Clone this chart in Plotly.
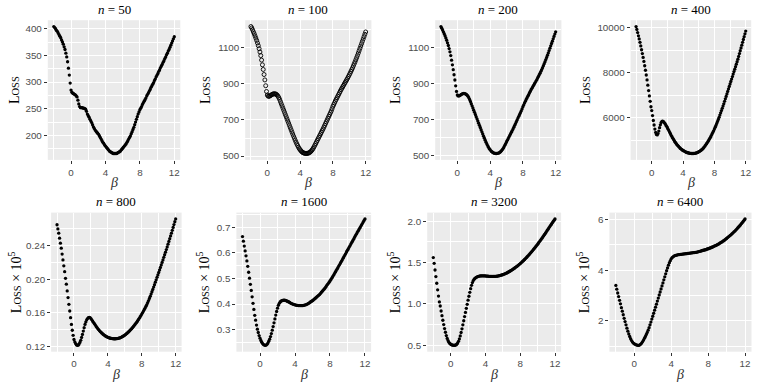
import numpy as np
import plotly.graph_objects as go

W, H = 761, 386

# beta grid the losses were evaluated on (-2 to 12, step 0.1)
beta = np.linspace(-2, 12, 141)

# losses, one row per unit of beta
loss_n50 = [
    404, 402, 400, 397, 395, 392, 389, 386, 383, 379,
    375, 371, 366, 361, 354, 347, 338, 326, 313, 298,
    285, 281, 279, 278, 277, 276, 274, 272, 266, 259,
    254, 252, 252, 252, 251, 251, 250, 249, 245, 240,
    237, 234, 230, 227, 224, 220, 216, 213, 210, 208,
    206, 204, 202, 199, 196, 193, 190, 187, 185, 182,
    180, 178, 176, 174, 172, 170, 169, 168, 167, 166,
    166, 166, 166, 166, 167, 168, 169, 170, 172, 174,
    176, 178, 180, 182, 184, 187, 190, 193, 196, 199,
    203, 207, 211, 215, 220, 225, 230, 235, 240, 244,
    248, 251, 254, 258, 261, 264, 267, 270, 274, 277,
    280, 283, 286, 290, 293, 296, 299, 303, 306, 310,
    313, 316, 320, 323, 327, 330, 333, 337, 340, 344,
    347, 351, 354, 358, 361, 365, 369, 373, 377, 381,
    385]

loss_n100 = [
    1218, 1210, 1200, 1189, 1178, 1166, 1154, 1141, 1127, 1112,
    1095, 1077, 1057, 1032, 1006, 980, 952, 922, 890, 858,
    838, 832, 831, 833, 836, 839, 842, 844, 845, 845,
    844, 842, 838, 832, 824, 814, 802, 790, 778, 766,
    754, 742, 730, 718, 706, 694, 682, 670, 658, 646,
    634, 622, 610, 599, 588, 577, 567, 558, 549, 541,
    535, 529, 524, 520, 518, 516, 515, 514, 514, 515,
    516, 518, 521, 525, 530, 536, 543, 551, 560, 569,
    578, 587, 596, 605, 614, 623, 632, 641, 650, 660,
    670, 680, 690, 700, 710, 720, 730, 740, 750, 762,
    775, 785, 795, 805, 814, 823, 832, 841, 850, 859,
    868, 876, 884, 892, 900, 908, 916, 924, 932, 941,
    950, 959, 969, 979, 989, 1000, 1011, 1022, 1034, 1046,
    1058, 1071, 1084, 1097, 1110, 1123, 1136, 1149, 1162, 1175,
    1188]

loss_n200 = [
    1216, 1207, 1197, 1187, 1176, 1165, 1153, 1140, 1126, 1111,
    1094, 1076, 1055, 1030, 1004, 977, 949, 920, 888, 857,
    837, 832, 832, 834, 837, 840, 843, 845, 846, 845,
    843, 840, 836, 830, 822, 812, 801, 789, 777, 765,
    753, 741, 729, 717, 705, 693, 681, 669, 657, 645,
    633, 621, 609, 598, 587, 576, 566, 557, 548, 540,
    534, 528, 523, 520, 517, 515, 514, 513, 513, 514,
    515, 517, 520, 524, 529, 535, 542, 550, 559, 568,
    577, 586, 595, 604, 613, 622, 631, 640, 649, 659,
    669, 679, 689, 699, 709, 719, 729, 739, 749, 760,
    772, 782, 792, 802, 812, 821, 830, 839, 848, 857,
    866, 874, 882, 890, 898, 906, 914, 922, 931, 940,
    949, 958, 968, 978, 988, 999, 1010, 1021, 1033, 1045,
    1057, 1070, 1083, 1096, 1109, 1122, 1135, 1148, 1161, 1174,
    1187]

loss_n400 = [
    10050, 9920, 9780, 9640, 9500, 9350, 9190, 9020, 8850, 8680,
    8500, 8310, 8110, 7900, 7680, 7450, 7210, 6970, 6730, 6490,
    6320, 6100, 5880, 5680, 5500, 5350, 5260, 5240, 5300, 5410,
    5560, 5690, 5790, 5840, 5850, 5830, 5790, 5740, 5680, 5620,
    5560, 5490, 5420, 5350, 5280, 5210, 5150, 5090, 5030, 4970,
    4920, 4870, 4820, 4780, 4740, 4700, 4660, 4630, 4600, 4570,
    4550, 4530, 4510, 4490, 4470, 4460, 4450, 4440, 4430, 4420,
    4420, 4415, 4415, 4415, 4420, 4425, 4430, 4440, 4455, 4470,
    4490, 4510, 4535, 4560, 4590, 4620, 4660, 4700, 4750, 4800,
    4850, 4900, 4960, 5020, 5080, 5140, 5210, 5280, 5350, 5420,
    5500, 5580, 5660, 5750, 5840, 5930, 6020, 6120, 6220, 6320,
    6420, 6520, 6620, 6730, 6840, 6950, 7060, 7170, 7280, 7390,
    7500, 7610, 7720, 7830, 7940, 8050, 8160, 8270, 8380, 8490,
    8600, 8725, 8850, 8975, 9100, 9225, 9350, 9475, 9600, 9725,
    9850]

# bottom row is shown in units of 10^5
loss_n800 = [
    0.265, 0.260, 0.255, 0.249, 0.243, 0.237, 0.230, 0.223, 0.216, 0.209,
    0.201, 0.194, 0.186, 0.178, 0.170, 0.162, 0.154, 0.146, 0.139, 0.133,
    0.128, 0.125, 0.123, 0.1215, 0.121, 0.1212, 0.1225, 0.1245, 0.127, 0.1305,
    0.134, 0.138, 0.142, 0.146, 0.149, 0.1515, 0.153, 0.154, 0.1545, 0.154,
    0.153, 0.1515, 0.150, 0.1485, 0.147, 0.1455, 0.144, 0.1425, 0.141, 0.1398,
    0.1386, 0.1375, 0.1365, 0.1355, 0.1346, 0.1338, 0.1330, 0.1323, 0.1317, 0.1311,
    0.1306, 0.1302, 0.1298, 0.1295, 0.1293, 0.1291, 0.1290, 0.1289, 0.1289, 0.1289,
    0.1290, 0.1291, 0.1293, 0.1296, 0.1299, 0.1303, 0.1308, 0.1313, 0.1319, 0.1326,
    0.1333, 0.1341, 0.1349, 0.1358, 0.1367, 0.1377, 0.1387, 0.1398, 0.1409, 0.1421,
    0.1433, 0.1446, 0.1459, 0.1473, 0.1487, 0.1502, 0.1517, 0.1533, 0.1549, 0.1566,
    0.1583, 0.1601, 0.1619, 0.1638, 0.1657, 0.1677, 0.1697, 0.1721, 0.1745, 0.1770,
    0.1795, 0.1822, 0.1850, 0.1878, 0.1906, 0.1935, 0.1964, 0.1993, 0.2022, 0.2051,
    0.2080, 0.2110, 0.2140, 0.2170, 0.2200, 0.2230, 0.2261, 0.2292, 0.2323, 0.2354,
    0.2385, 0.2418, 0.2451, 0.2484, 0.2517, 0.2550, 0.2584, 0.2618, 0.2652, 0.2686,
    0.2720]

loss_n1600 = [
    0.663, 0.645, 0.626, 0.607, 0.588, 0.568, 0.547, 0.524, 0.501, 0.477,
    0.453, 0.428, 0.403, 0.379, 0.356, 0.337, 0.318, 0.302, 0.289, 0.277,
    0.267, 0.258, 0.251, 0.246, 0.242, 0.240, 0.239, 0.240, 0.243, 0.248,
    0.255, 0.263, 0.273, 0.285, 0.298, 0.312, 0.327, 0.342, 0.357, 0.371,
    0.384, 0.395, 0.403, 0.408, 0.411, 0.413, 0.414, 0.415, 0.415, 0.414,
    0.413, 0.411, 0.410, 0.408, 0.406, 0.404, 0.402, 0.401, 0.399, 0.398,
    0.397, 0.396, 0.395, 0.395, 0.394, 0.394, 0.394, 0.394, 0.394, 0.394,
    0.395, 0.396, 0.397, 0.398, 0.400, 0.402, 0.404, 0.406, 0.409, 0.411,
    0.413, 0.416, 0.419, 0.422, 0.425, 0.428, 0.431, 0.434, 0.437, 0.441,
    0.445, 0.449, 0.453, 0.457, 0.461, 0.466, 0.471, 0.476, 0.480, 0.485,
    0.490, 0.495, 0.501, 0.506, 0.512, 0.518, 0.524, 0.530, 0.536, 0.542,
    0.548, 0.554, 0.560, 0.566, 0.572, 0.579, 0.585, 0.591, 0.597, 0.604,
    0.610, 0.616, 0.622, 0.628, 0.635, 0.641, 0.647, 0.653, 0.660, 0.666,
    0.672, 0.678, 0.684, 0.690, 0.696, 0.702, 0.708, 0.714, 0.720, 0.726,
    0.732]

loss_n3200 = [
    1.560, 1.490, 1.410, 1.330, 1.250, 1.170, 1.095, 1.025, 0.975, 0.915,
    0.858, 0.803, 0.751, 0.703, 0.658, 0.618, 0.584, 0.557, 0.537, 0.523,
    0.513, 0.507, 0.503, 0.501, 0.500, 0.501, 0.505, 0.513, 0.527, 0.548,
    0.578, 0.614, 0.655, 0.700, 0.748, 0.797, 0.847, 0.897, 0.947, 0.996,
    1.045, 1.093, 1.140, 1.185, 1.225, 1.258, 1.282, 1.298, 1.310, 1.318,
    1.324, 1.329, 1.333, 1.336, 1.338, 1.339, 1.340, 1.340, 1.340, 1.339,
    1.338, 1.337, 1.336, 1.335, 1.334, 1.333, 1.332, 1.332, 1.332, 1.332,
    1.332, 1.333, 1.334, 1.335, 1.337, 1.339, 1.341, 1.344, 1.347, 1.350,
    1.354, 1.358, 1.362, 1.367, 1.372, 1.377, 1.383, 1.389, 1.395, 1.401,
    1.408, 1.415, 1.422, 1.429, 1.437, 1.445, 1.453, 1.461, 1.470, 1.479,
    1.488, 1.497, 1.507, 1.517, 1.527, 1.537, 1.548, 1.559, 1.570, 1.581,
    1.593, 1.605, 1.617, 1.629, 1.642, 1.655, 1.668, 1.681, 1.694, 1.708,
    1.722, 1.736, 1.750, 1.764, 1.779, 1.794, 1.809, 1.824, 1.839, 1.855,
    1.871, 1.887, 1.903, 1.919, 1.935, 1.951, 1.967, 1.982, 1.997, 2.012,
    2.027]

loss_n6400 = [
    3.40, 3.25, 3.10, 2.96, 2.81, 2.67, 2.52, 2.38, 2.24, 2.10,
    1.97, 1.84, 1.71, 1.59, 1.48, 1.38, 1.29, 1.22, 1.16, 1.12,
    1.09, 1.07, 1.05, 1.04, 1.03, 1.03, 1.05, 1.08, 1.12, 1.18,
    1.24, 1.31, 1.38, 1.46, 1.54, 1.63, 1.73, 1.84, 1.95, 2.07,
    2.18, 2.30, 2.42, 2.54, 2.66, 2.78, 2.90, 3.02, 3.14, 3.26,
    3.38, 3.50, 3.62, 3.74, 3.86, 3.98, 4.09, 4.20, 4.30, 4.38,
    4.45, 4.50, 4.53, 4.56, 4.58, 4.59, 4.60, 4.61, 4.62, 4.62,
    4.63, 4.63, 4.64, 4.64, 4.65, 4.65, 4.66, 4.66, 4.67, 4.67,
    4.68, 4.68, 4.69, 4.69, 4.70, 4.70, 4.71, 4.71, 4.72, 4.73,
    4.74, 4.75, 4.76, 4.77, 4.78, 4.79, 4.80, 4.81, 4.82, 4.84,
    4.85, 4.86, 4.88, 4.89, 4.91, 4.92, 4.94, 4.96, 4.97, 4.99,
    5.01, 5.03, 5.05, 5.08, 5.10, 5.12, 5.15, 5.17, 5.20, 5.23,
    5.26, 5.29, 5.32, 5.35, 5.38, 5.41, 5.45, 5.48, 5.52, 5.55,
    5.59, 5.63, 5.67, 5.71, 5.75, 5.79, 5.84, 5.88, 5.93, 5.98,
    6.03]

sample_sizes = ["50", "100", "200", "400", "800", "1600", "3200", "6400"]
losses = [loss_n50, loss_n100, loss_n200, loss_n400,
          loss_n800, loss_n1600, loss_n3200, loss_n6400]

# y tick labels per panel
y_ticks = [
    [200, 250, 300, 350, 400],
    [500, 700, 900, 1100],
    [500, 700, 900, 1100],
    [6000, 8000, 10000],
    [0.12, 0.16, 0.20, 0.24],
    [0.3, 0.4, 0.5, 0.6, 0.7],
    [0.5, 1.0, 1.5, 2.0],
    [2, 4, 6],
]
y_ticktext = [
    ["200", "250", "300", "350", "400"],
    ["500", "700", "900", "1100"],
    ["500", "700", "900", "1100"],
    ["6000", "8000", "10000"],
    ["0.12", "0.16", "0.20", "0.24"],
    ["0.3", "0.4", "0.5", "0.6", "0.7"],
    ["0.5", "1.0", "1.5", "2.0"],
    ["2", "4", "6"],
]
x_ticks = [0, 4, 8, 12]
x_minor = [-2, 2, 6, 10]

# panel boxes in pixels (left, right) and rows (top, bottom)
panel_x = [(47.8, 180.3), (245.2, 371.4), (435.2, 561.4), (630.6, 751.2),
           (51.1, 181.6), (236.4, 371.1), (427.2, 561.1), (609.4, 751.5)]
row_y = [(20.3, 160.7), (213.7, 353.5)]
ylab_x = [14, 205, 395, 585, 15, 203, 394, 583]

BG = "#EBEBEB"
TICK_FONT = dict(family="Liberation Sans, Arial, sans-serif", size=9.8, color="#4D4D4D")
SERIF = "Liberation Serif, Times New Roman, serif"

fig = go.Figure()
annotations = []

for i in range(8):
    k = i + 1
    sfx = "" if k == 1 else str(k)
    row = 0 if i < 4 else 1
    x0, x1 = panel_x[i]
    top, bot = row_y[row]
    vals = losses[i]

    open_marker = (i == 1)
    fig.add_trace(go.Scatter(
        x=beta, y=vals, mode="markers",
        xaxis="x" + sfx, yaxis="y" + sfx,
        marker=dict(
            symbol="circle-open" if open_marker else "circle",
            size=4 if open_marker else 3.3,
            color="black",
            line=dict(width=0.9 if open_marker else 0, color="black"),
        ),
        showlegend=False, hoverinfo="skip",
    ))

    ymin, ymax = min(vals), max(vals)
    pad = 0.05 * (ymax - ymin)
    maj = y_ticks[i]
    step = maj[1] - maj[0]
    minor = [maj[0] - step / 2] + [m + step / 2 for m in maj]

    fig.layout["xaxis" + sfx] = dict(
        domain=[x0 / W, x1 / W], anchor="y" + sfx,
        range=[-2.7, 12.7], tickvals=x_ticks,
        ticks="outside", ticklen=3, tickwidth=1, tickcolor="#333333",
        tickfont=TICK_FONT, showgrid=True, gridcolor="white", gridwidth=1.1,
        minor=dict(tickvals=x_minor, showgrid=True, gridcolor="white",
                   gridwidth=0.55, ticks=""),
        zeroline=False, showline=False,
    )
    fig.layout["yaxis" + sfx] = dict(
        domain=[1 - bot / H, 1 - top / H], anchor="x" + sfx,
        range=[ymin - pad, ymax + pad],
        tickvals=maj, ticktext=y_ticktext[i],
        ticks="outside", ticklen=3, tickwidth=1, tickcolor="#333333",
        tickfont=TICK_FONT, showgrid=True, gridcolor="white", gridwidth=1.1,
        minor=dict(tickvals=minor, showgrid=True, gridcolor="white",
                   gridwidth=0.55, ticks=""),
        zeroline=False, showline=False,
    )

    xc = (x0 + x1) / 2 / W
    # panel title
    annotations.append(dict(
        text="<i>n</i> = " + sample_sizes[i], x=xc, y=1 - (top - 1.5) / H,
        xref="paper", yref="paper", xanchor="center", yanchor="bottom",
        showarrow=False, font=dict(family=SERIF, size=13, color="black"),
    ))
    # x axis title
    annotations.append(dict(
        text="<i>β</i>", x=xc, y=1 - (bot + 22.5) / H,
        xref="paper", yref="paper", xanchor="center", yanchor="middle",
        showarrow=False, font=dict(family=SERIF, size=14, color="#333333"),
    ))
    # y axis title
    ylab = "L<span style='font-size:10.5px'>OSS</span>"
    if row == 1:
        ylab += " × 10<sup>5</sup>"
    annotations.append(dict(
        text=ylab, x=ylab_x[i] / W, y=1 - (top + bot) / 2 / H,
        xref="paper", yref="paper", xanchor="center", yanchor="middle",
        textangle=-90, showarrow=False,
        font=dict(family=SERIF, size=14, color="black"),
    ))

fig.update_layout(
    width=W, height=H,
    margin=dict(l=0, r=0, t=0, b=0),
    paper_bgcolor="white", plot_bgcolor=BG,
    annotations=annotations,
)

# drop the default page margin so the figure sits at the window origin
fig.write_html("out.html", config={"displayModeBar": False},
               post_script="document.body.style.margin='0';")
